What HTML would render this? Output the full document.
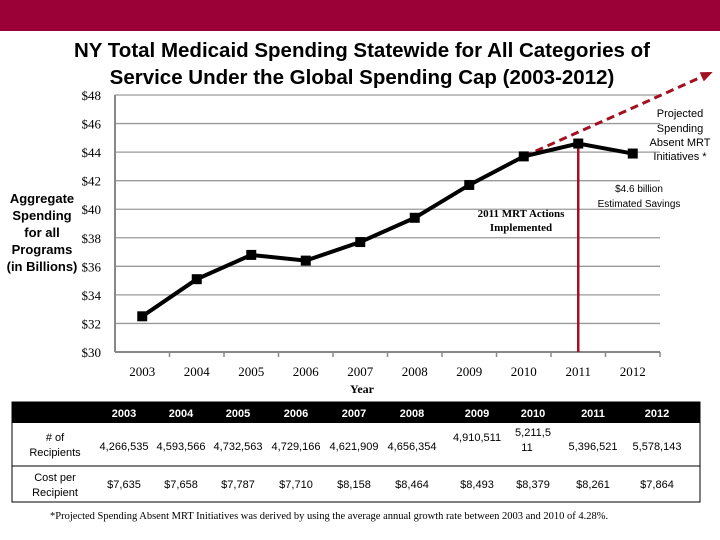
<!DOCTYPE html>
<html><head><meta charset="utf-8"><style>
body{margin:0;width:720px;height:540px;background:#fff;overflow:hidden;position:relative;font-family:"Liberation Sans",sans-serif}
.tb{position:absolute;left:0;top:0;width:720px;height:31px;background:#9b0036}
</style></head><body>
<div class="tb"></div>
<svg id="c" width="720" height="540" style="position:absolute;left:0;top:0"></svg>
<script>
const years=["2003","2004","2005","2006","2007","2008","2009","2010","2011","2012"];
const spending=[32.5,35.1,36.8,36.4,37.7,39.4,41.7,43.7,44.6,43.9];
const projYears=[7,8,9,10.4];
const projected=[43.7,45.4,47.1,49.5];
const yTicks=[30,32,34,36,38,40,42,44,46,48];
const recipients=["4,266,535","4,593,566","4,732,563","4,729,166","4,621,909","4,656,354","4,910,511","5,211,511","5,396,521","5,578,143"];
const costs=["$7,635","$7,658","$7,787","$7,710","$8,158","$8,464","$8,493","$8,379","$8,261","$7,864"];
const NS="http://www.w3.org/2000/svg";
const svg=document.getElementById('c');
const X0=115,X1=660,Y0=352,Y1=95;
const step=(X1-X0)/years.length;
const xs=i=>X0+step/2+i*step;
const ys=v=>Y0-(v-30)/18*(Y0-Y1);
function el(t,a,txt){const e=document.createElementNS(NS,t);for(const k in a)e.setAttribute(k,a[k]);if(txt!=null)e.textContent=txt;svg.appendChild(e);return e;}
let t=el('text',{x:362,y:57,'text-anchor':'middle','font-size':20.5,'font-weight':'bold'},"NY Total Medicaid Spending Statewide for All Categories of");

t=el('text',{x:362,y:84,'text-anchor':'middle','font-size':20.5,'font-weight':'bold'},"Service Under the Global Spending Cap (2003-2012)");

yTicks.forEach(v=>{
 if(v>30){const g=el('line',{x1:X0,x2:X1,y1:ys(v),y2:ys(v),stroke:'#9a9a9a','stroke-width':1.3});
 }
 const l=el('text',{x:101,y:ys(v)+5,'text-anchor':'end','font-size':13,'font-family':'Liberation Serif'},'$'+v);
 
});
let a=el('line',{x1:X0,x2:X0,y1:Y1,y2:Y0,stroke:'#888','stroke-width':2});

a=el('line',{x1:X0,x2:X1,y1:Y0,y2:Y0,stroke:'#888','stroke-width':2});

years.forEach((y,i)=>{
 const tk=el('line',{x1:X0+(i+1)*step,x2:X0+(i+1)*step,y1:Y0,y2:Y0+5,stroke:'#888','stroke-width':1.5});
 
 const l=el('text',{x:xs(i),y:376,'text-anchor':'middle','font-size':13,'font-family':'Liberation Serif'},y);
 
});
t=el('text',{x:362,y:393,'text-anchor':'middle','font-size':12,'font-weight':'bold','font-family':'Liberation Serif'},"Year");

["Aggregate","Spending","for all","Programs","(in Billions)"].forEach((s,i)=>{
 const l=el('text',{x:42,y:203+i*17,'text-anchor':'middle','font-size':13,'font-weight':'bold'},s);
 
});
const mx=xs(8);
a=el('line',{x1:mx,x2:mx,y1:ys(spending[8]),y2:Y0,stroke:'#a31020','stroke-width':2.5});

const pp=projYears.map((u,i)=>[xs(u),ys(projected[i])]);
let pl=el('polyline',{points:pp.map(p=>p.join(',')).join(' '),fill:'none',stroke:'#a31020','stroke-width':3,'stroke-dasharray':'8,5'});

const e=pp[pp.length-1],s=pp[pp.length-2];const ang=Math.atan2(e[1]-s[1],e[0]-s[0]);
const ah=el('polygon',{points:`${e[0]+4*Math.cos(ang)},${e[1]+4*Math.sin(ang)} ${e[0]-8*Math.cos(ang)+5*Math.sin(ang)},${e[1]-8*Math.sin(ang)-5*Math.cos(ang)} ${e[0]-8*Math.cos(ang)-5*Math.sin(ang)},${e[1]-8*Math.sin(ang)+5*Math.cos(ang)}`,fill:'#a31020'});

pl=el('polyline',{points:spending.map((v,i)=>xs(i)+','+ys(v)).join(' '),fill:'none',stroke:'#000','stroke-width':4});

spending.forEach((v,i)=>{const r=el('rect',{x:xs(i)-5,y:ys(v)-5,width:10,height:10,fill:'#000'});
 });
[["Projected",117],["Spending",132],["Absent MRT",146],["Initiatives *",160]].forEach(([s,y])=>{
 const l=el('text',{x:680,y:y,'text-anchor':'middle','font-size':11},s);
 });
[["$4.6 billion",192],["Estimated Savings",207]].forEach(([s,y])=>{
 const l=el('text',{x:639,y:y,'text-anchor':'middle','font-size':10},s);
 });
[["2011 MRT Actions",217],["Implemented",231]].forEach(([s,y])=>{
 const l=el('text',{x:521,y:y,'text-anchor':'middle','font-size':11,'font-weight':'bold','font-family':'Liberation Serif'},s);
 });
const cols=[124,181,238,296,354,412,477,533,593,657];
let r=el('rect',{x:12,y:402,width:688,height:21,fill:'#000'});

r=el('rect',{x:12,y:402,width:688,height:100,fill:'none',stroke:'#000','stroke-width':1});

r=el('line',{x1:12,x2:700,y1:466,y2:466,stroke:'#000','stroke-width':1});

years.forEach((y,i)=>{
 let l=el('text',{x:cols[i],y:417,'text-anchor':'middle','font-size':11,'font-weight':'bold',fill:'#fff'},y);
 
 const ry=(i===6)?441:450;
 if(i===7){
  l=el('text',{x:cols[i],y:436,'text-anchor':'middle','font-size':11},recipients[i].slice(0,7));
  
  l=el('text',{x:cols[i]-6,y:451,'text-anchor':'middle','font-size':11},recipients[i].slice(7));
  
 } else {
  l=el('text',{x:cols[i],y:ry,'text-anchor':'middle','font-size':11},recipients[i]);
  
 }
 l=el('text',{x:cols[i],y:488,'text-anchor':'middle','font-size':11},costs[i]);
 
});
[["# of",441],["Recipients",456],["Cost per",481],["Recipient",496]].forEach(([s,y])=>{
 const l=el('text',{x:55,y:y,'text-anchor':'middle','font-size':11},s);
 });
t=el('text',{x:50,y:519,'font-size':10.5,'font-family':'Liberation Serif'},"*Projected Spending Absent MRT Initiatives was derived by using the average annual growth rate between 2003 and 2010 of  4.28%.");

</script>
</body></html>
